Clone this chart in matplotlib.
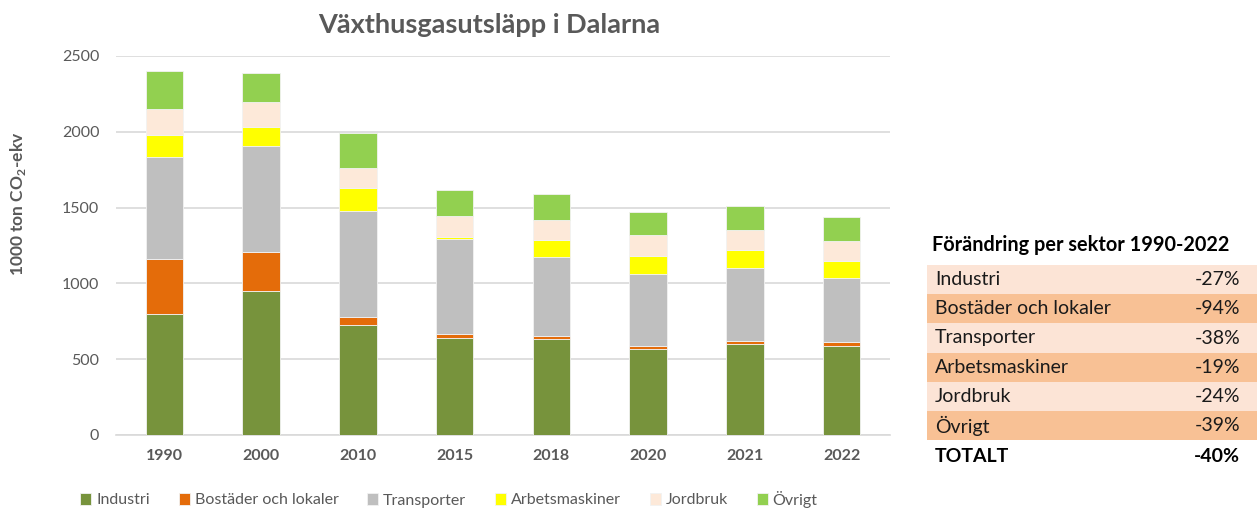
import matplotlib.pyplot as plt
from matplotlib.patches import Rectangle
import numpy as np

plt.rcParams['font.family'] = ['Lato', 'DejaVu Sans']
plt.rcParams['mathtext.fontset'] = 'custom'
plt.rcParams['mathtext.rm'] = 'Lato'
plt.rcParams['mathtext.bf'] = 'Lato:bold'

years = ['1990', '2000', '2010', '2015', '2018', '2020', '2021', '2022']
sectors = ['Industri', 'Bostäder och lokaler', 'Transporter', 'Arbetsmaskiner', 'Jordbruk', 'Övrigt']
colors = ['#77933C', '#E46C0A', '#BFBFBF', '#FFFF00', '#FDE9D9', '#92D050']

# 1000 ton CO2-ekv
industri = [800, 949, 727, 641, 632, 566, 603, 590]
bostader = [363, 256, 50, 28, 24, 22, 20, 22]
transporter = [672, 700, 703, 624, 516, 471, 476, 423]
arbetsmaskiner = [141, 128, 146, 16, 114, 121, 121, 110]
jordbruk = [172, 165, 136, 136, 135, 137, 135, 137]
ovrigt = [253, 190, 229, 170, 169, 154, 158, 154]

table_title = 'Förändring per sektor 1990-2022'
table_labels = ['Industri', 'Bostäder och lokaler', 'Transporter', 'Arbetsmaskiner', 'Jordbruk', 'Övrigt']
table_values = ['-27%', '-94%', '-38%', '-19%', '-24%', '-39%']
total_label = 'TOTALT'
total_value = '-40%'

W, H = 1257, 508
fig = plt.figure(figsize=(W / 100, H / 100), dpi=100)
ax = fig.add_axes([116 / W, 1 - 435 / H, 774 / W, 379 / H])

series = [industri, bostader, transporter, arbetsmaskiner, jordbruk, ovrigt]
x = np.arange(len(years))
bottom = np.zeros(len(years))
for name, vals, c in zip(sectors, series, colors):
    ax.bar(x, vals, 0.39, bottom=bottom, color=c, label=name,
           edgecolor='#F2F2F2', linewidth=0.6, zorder=3)
    bottom += np.array(vals)

ax.set_xlim(-0.5, len(years) - 0.5)
ax.set_ylim(0, 2500)
ax.set_yticks(range(0, 2501, 500))
ax.set_xticks(x)
ax.set_xticklabels(years, fontweight='bold')
ax.grid(axis='y', color='#D9D9D9', linewidth=1.2, zorder=0)
for s in ['top', 'right', 'left']:
    ax.spines[s].set_visible(False)
ax.spines['bottom'].set_color('#D9D9D9')
ax.spines['bottom'].set_linewidth(1.2)
ax.tick_params(axis='both', length=0, colors='#595959', labelsize=11.5)
ax.tick_params(axis='x', pad=10)
ax.tick_params(axis='y', pad=12)

fig.text(18 / W, 1 - 204 / H, '1000 ton CO$_{\\mathbf{2}}$-ekv', rotation=90,
         ha='center', va='center', fontsize=12.5, fontweight='bold', color='#595959')
fig.text(489 / W, 1 - 25 / H, 'Växthusgasutsläpp i Dalarna', ha='center', va='center',
         fontsize=19.5, fontweight='bold', color='#595959')

fig.legend(loc='center', bbox_to_anchor=(449 / W, 1 - 499 / H), ncol=6, frameon=False,
           handlelength=0.7, handleheight=0.7, handletextpad=0.3, columnspacing=1.8,
           fontsize=11.5, labelcolor='#595959')

# table on the right
fig.text(932 / W, 1 - 245 / H, table_title, ha='left', va='center',
         fontsize=14.3, fontweight='bold', color='black')
row_h = 29.2
top = 265
for i, (lab, val) in enumerate(zip(table_labels, table_values)):
    y0 = top + i * row_h
    fc = '#FCE4D6' if i % 2 == 0 else '#F8C195'
    fig.patches.append(Rectangle((927 / W, 1 - (y0 + row_h) / H), (W - 927) / W, row_h / H,
                                 transform=fig.transFigure, facecolor=fc, edgecolor='none'))
    yc = 1 - (y0 + row_h / 2) / H
    fig.text(935 / W, yc, lab, ha='left', va='center', fontsize=14, color='#1a1a1a')
    fig.text(1240 / W, yc, val, ha='right', va='center', fontsize=14, color='#1a1a1a')
yc = 1 - 457 / H
fig.text(935 / W, yc, total_label, ha='left', va='center', fontsize=14, fontweight='bold', color='black')
fig.text(1240 / W, yc, total_value, ha='right', va='center', fontsize=14, fontweight='bold', color='black')

fig.savefig('out.png', dpi=100)
